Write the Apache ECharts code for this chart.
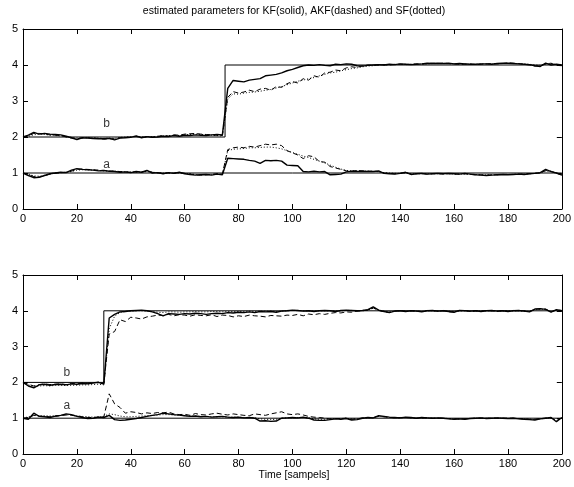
<!DOCTYPE html>
<html>
<head>
<meta charset="utf-8">
<script src="https://cdn.jsdelivr.net/npm/echarts@6/dist/echarts.min.js"></script>
<style>
  html, body { margin: 0; padding: 0; background: #fff; }
  #main { width: 574px; height: 487px; }
</style>
</head>
<body>
<div id="main"></div>
<script>
// samples are read every 2nd step: t = 0, 2, 4, ... 200
var sampleStep = 2;
var xTicks = [0, 20, 40, 60, 80, 100, 120, 140, 160, 180, 200];
var yTicks = [0, 1, 2, 3, 4, 5];

// true parameters
var trueA = [[0, 1], [200, 1]];
var trueBTop = [[0, 2], [75, 2], [75, 4], [200, 4]];
var trueBBottom = [[0, 2], [30, 2], [30, 4], [200, 4]];

// ---- upper plot (change at t = 75) ----
var topB_KF = [
  2.00, 2.05, 2.13, 2.08, 2.10, 2.08, 2.07, 2.06, 2.02, 1.98,
  1.93, 1.98, 1.97, 1.96, 1.95, 1.95, 1.96, 1.92, 1.97, 1.98,
  1.99, 2.03, 1.98, 2.01, 1.99, 2.00, 2.02, 2.01, 2.04, 2.02,
  2.05, 2.04, 2.06, 2.05, 2.04, 2.06, 2.07, 2.06, 3.35, 3.57,
  3.55, 3.53, 3.58, 3.60, 3.62, 3.70, 3.72, 3.74, 3.78, 3.84,
  3.88, 3.93, 3.98, 4.00, 3.99, 4.01, 3.99, 3.98, 4.02, 4.01,
  4.03, 4.02, 3.98, 3.97, 3.99, 4.00, 4.01, 4.00, 4.02, 4.01,
  4.03, 4.02, 4.01, 4.02, 4.03, 4.05, 4.04, 4.05, 4.04, 4.05,
  4.03, 4.04, 4.03, 4.02, 4.02, 4.03, 4.03, 4.02, 4.04, 4.05,
  4.05, 4.04, 4.03, 4.02, 4.01, 3.98, 3.96, 4.05, 4.00, 4.02,
  4.00
];
var topB_AKF = [
  2.00, 2.03, 2.10, 2.10, 2.08, 2.06, 2.05, 2.04, 2.00, 1.97,
  1.95, 1.97, 1.98, 1.97, 1.96, 1.94, 1.95, 1.95, 1.98, 1.99,
  2.00, 2.01, 1.99, 2.00, 2.00, 2.02, 2.04, 2.03, 2.06, 2.05,
  2.08, 2.09, 2.10, 2.08, 2.07, 2.06, 2.05, 2.04, 3.10, 3.26,
  3.22, 3.25, 3.30, 3.26, 3.33, 3.35, 3.30, 3.40, 3.38, 3.48,
  3.54, 3.50, 3.62, 3.58, 3.70, 3.66, 3.78, 3.80, 3.86, 3.84,
  3.92, 3.95, 3.93, 3.98, 4.00, 3.99, 4.00, 4.01, 4.00, 4.02,
  4.02, 4.01, 4.02, 4.03, 4.02, 4.04, 4.05, 4.04, 4.05, 4.04,
  4.03, 4.02, 4.02, 4.03, 4.01, 4.02, 4.03, 4.04, 4.03, 4.04,
  4.06, 4.05, 4.04, 4.02, 4.00, 3.97, 3.98, 4.03, 4.05, 3.99,
  3.98
];
var topB_SF = [
  2.00, 2.02, 2.06, 2.08, 2.07, 2.05, 2.04, 2.03, 2.01, 1.99,
  1.97, 1.98, 1.99, 1.98, 1.97, 1.96, 1.97, 1.96, 1.99, 2.00,
  2.01, 2.02, 2.00, 2.01, 2.01, 2.02, 2.03, 2.03, 2.05, 2.04,
  2.06, 2.07, 2.08, 2.07, 2.06, 2.05, 2.04, 2.03, 3.05, 3.20,
  3.19, 3.22, 3.24, 3.25, 3.27, 3.30, 3.32, 3.36, 3.40, 3.45,
  3.50, 3.55, 3.58, 3.62, 3.65, 3.70, 3.74, 3.78, 3.80, 3.84,
  3.87, 3.90, 3.92, 3.95, 3.97, 3.98, 4.00, 4.00, 4.01, 4.01,
  4.02, 4.02, 4.02, 4.03, 4.03, 4.03, 4.04, 4.04, 4.04, 4.04,
  4.03, 4.03, 4.03, 4.02, 4.02, 4.03, 4.03, 4.03, 4.04, 4.04,
  4.05, 4.04, 4.04, 4.03, 4.02, 4.00, 3.99, 4.02, 4.04, 4.01,
  4.00
];
var topA_KF = [
  1.00, 0.93, 0.87, 0.88, 0.93, 0.98, 1.00, 1.02, 1.01, 1.08,
  1.12, 1.10, 1.09, 1.08, 1.06, 1.07, 1.05, 1.04, 1.02, 1.03,
  1.01, 1.04, 1.02, 1.07, 1.00, 1.01, 0.98, 1.01, 0.99, 1.02,
  0.98, 0.96, 0.94, 0.95, 0.96, 0.94, 0.97, 0.95, 1.41, 1.40,
  1.39, 1.38, 1.35, 1.33, 1.27, 1.35, 1.34, 1.35, 1.33, 1.22,
  1.21, 1.20, 1.04, 1.03, 1.05, 1.03, 1.04, 0.95, 0.96, 0.97,
  1.03, 1.05, 1.04, 1.05, 1.04, 1.04, 1.06, 0.99, 0.98, 0.97,
  0.99, 1.02, 0.96, 0.98, 0.99, 0.97, 0.98, 0.99, 0.98, 0.99,
  0.98, 0.97, 0.99, 0.97, 0.95, 0.94, 0.93, 0.94, 0.95, 0.96,
  0.95, 0.96, 0.97, 0.96, 0.98, 0.99, 1.01, 1.10, 1.04, 1.00,
  0.95
];
var topA_AKF = [
  1.00, 0.96, 0.90, 0.89, 0.92, 0.97, 0.99, 1.01, 1.02, 1.05,
  1.10, 1.11, 1.10, 1.09, 1.08, 1.07, 1.06, 1.05, 1.04, 1.03,
  1.02, 1.03, 1.03, 1.05, 1.02, 1.00, 0.99, 1.00, 1.00, 1.01,
  0.99, 0.97, 0.95, 0.94, 0.95, 0.96, 0.98, 0.97, 1.65, 1.70,
  1.72, 1.70, 1.74, 1.72, 1.76, 1.80, 1.78, 1.80, 1.76, 1.62,
  1.56, 1.50, 1.40, 1.48, 1.45, 1.32, 1.30, 1.18, 1.14, 1.10,
  1.06, 1.05, 1.07, 1.06, 1.05, 1.05, 1.04, 1.00, 0.99, 0.98,
  0.99, 1.01, 0.97, 0.98, 0.98, 0.97, 0.98, 0.98, 0.97, 0.98,
  0.97, 0.97, 0.98, 0.96, 0.95, 0.95, 0.94, 0.95, 0.95, 0.96,
  0.96, 0.96, 0.97, 0.97, 0.98, 0.99, 1.00, 1.07, 1.05, 0.99,
  0.94
];
var topA_SF = [
  1.00, 0.97, 0.92, 0.91, 0.94, 0.98, 1.00, 1.01, 1.02, 1.04,
  1.08, 1.09, 1.09, 1.08, 1.07, 1.06, 1.05, 1.05, 1.04, 1.03,
  1.03, 1.02, 1.03, 1.04, 1.02, 1.01, 1.00, 1.00, 1.00, 1.00,
  0.99, 0.98, 0.96, 0.95, 0.96, 0.96, 0.97, 0.97, 1.62, 1.66,
  1.67, 1.68, 1.70, 1.70, 1.71, 1.72, 1.72, 1.70, 1.67, 1.62,
  1.57, 1.52, 1.47, 1.43, 1.38, 1.33, 1.28, 1.22, 1.16, 1.11,
  1.07, 1.06, 1.06, 1.05, 1.05, 1.04, 1.04, 1.01, 1.00, 0.99,
  0.99, 1.00, 0.98, 0.98, 0.98, 0.98, 0.98, 0.98, 0.98, 0.98,
  0.97, 0.97, 0.97, 0.96, 0.96, 0.95, 0.95, 0.95, 0.95, 0.96,
  0.96, 0.96, 0.97, 0.97, 0.98, 0.99, 1.00, 1.05, 1.04, 1.00,
  0.96
];

// ---- lower plot (change at t = 30) ----
var botB_KF = [
  2.00, 1.90, 1.85, 1.93, 1.95, 1.92, 1.94, 1.95, 1.93, 1.96,
  1.95, 1.97, 1.96, 1.98, 2.00, 1.95, 3.80, 3.90, 3.97, 3.98,
  4.00, 4.01, 4.02, 4.00, 3.97, 3.92, 3.86, 3.92, 3.91, 3.90,
  3.92, 3.91, 3.93, 3.92, 3.90, 3.92, 3.93, 3.92, 3.95, 3.94,
  3.96, 3.95, 3.97, 3.95, 3.98, 3.97, 3.98, 3.96, 3.99, 4.00,
  4.02, 4.01, 3.99, 4.00, 3.98, 4.00, 4.01, 4.00, 3.98, 4.01,
  4.02, 4.01, 4.00, 4.01, 4.03, 4.11, 4.02, 3.98, 3.95, 3.99,
  4.00, 3.98, 4.00, 3.99, 3.97, 4.00, 4.01, 3.99, 4.00, 3.98,
  3.96, 4.01, 4.00, 3.99, 4.00, 3.98, 4.00, 4.01, 3.99, 4.00,
  3.98, 4.00, 4.01, 3.99, 3.97, 4.05, 4.06, 4.04, 3.96, 4.03,
  4.00
];
var botB_AKF = [
  2.00, 1.95, 1.90, 1.94, 1.96, 1.94, 1.95, 1.96, 1.94, 1.97,
  1.96, 1.98, 1.97, 1.99, 2.01, 1.97, 3.35, 3.42, 3.75, 3.70,
  3.82, 3.80, 3.77, 3.83, 3.85, 3.88, 3.87, 3.90, 3.86, 3.89,
  3.88, 3.85, 3.89, 3.87, 3.86, 3.89, 3.84, 3.88, 3.87, 3.83,
  3.86, 3.84, 3.88, 3.86, 3.85, 3.83, 3.87, 3.86, 3.85, 3.88,
  3.87, 3.90, 3.86, 3.91, 3.89, 3.92, 3.90, 3.93, 3.95, 3.94,
  3.97, 3.96, 3.99, 4.00, 4.02, 4.08, 4.01, 3.97, 3.96, 3.99,
  4.01, 3.99, 4.00, 4.00, 3.98, 4.01, 4.00, 3.99, 4.01, 3.97,
  3.97, 4.00, 4.01, 3.98, 4.00, 3.99, 4.01, 4.00, 3.98, 4.01,
  3.99, 4.01, 4.00, 4.00, 3.98, 4.04, 4.05, 4.05, 3.97, 4.02,
  4.01
];
var botB_SF = [
  2.00, 1.93, 1.89, 1.90, 1.91, 1.90, 1.92, 1.92, 1.91, 1.92,
  1.92, 1.93, 1.93, 1.94, 1.95, 1.93, 3.50, 3.85, 3.95, 3.98,
  3.99, 4.00, 4.00, 3.99, 3.98, 3.96, 3.95, 3.97, 3.97, 3.96,
  3.97, 3.97, 3.98, 3.97, 3.97, 3.98, 3.98, 3.97, 3.98, 3.98,
  3.98, 3.98, 3.99, 3.98, 3.99, 3.99, 3.99, 3.98, 3.99, 4.00,
  4.01, 4.01, 4.00, 4.00, 3.99, 4.00, 4.00, 4.00, 3.99, 4.00,
  4.01, 4.01, 4.00, 4.01, 4.02, 4.07, 4.02, 3.99, 3.97, 3.99,
  4.00, 3.99, 4.00, 3.99, 3.98, 4.00, 4.00, 3.99, 4.00, 3.99,
  3.98, 4.00, 4.00, 3.99, 4.00, 3.99, 4.00, 4.00, 3.99, 4.00,
  3.99, 4.00, 4.00, 3.99, 3.98, 4.03, 4.04, 4.03, 3.98, 4.02,
  4.00
];
var botA_KF = [
  1.00, 0.97, 1.14, 1.05, 1.04, 1.02, 1.06, 1.08, 1.12, 1.10,
  1.05, 1.02, 0.99, 1.00, 1.03, 1.02, 1.08, 0.96, 0.94, 0.95,
  0.97, 0.99, 1.02, 1.05, 1.08, 1.10, 1.14, 1.12, 1.10, 1.09,
  1.07, 1.05, 1.06, 1.04, 1.05, 1.03, 1.04, 1.05, 1.03, 1.02,
  1.03, 1.01, 1.02, 1.00, 0.92, 0.93, 0.91, 0.92, 1.00, 1.01,
  1.02, 1.01, 1.03, 1.00, 0.95, 0.94, 0.94, 0.96, 0.98, 0.97,
  0.99, 0.95, 0.96, 1.00, 1.02, 1.01, 1.07, 1.05, 1.03, 1.02,
  1.01, 1.03, 1.02, 1.00, 1.02, 1.01, 1.00, 1.01, 1.00, 0.98,
  0.97, 0.98, 0.97, 0.99, 1.00, 1.01, 0.99, 1.00, 1.01, 1.00,
  0.99, 1.00, 0.98, 0.97, 0.96, 0.95, 0.98, 1.00, 1.02, 0.90,
  1.02
];
var botA_AKF = [
  1.00, 1.02, 1.08, 1.06, 1.05, 1.04, 1.05, 1.07, 1.09, 1.08,
  1.06, 1.04, 1.02, 1.02, 1.03, 1.04, 1.68, 1.40, 1.30, 1.14,
  1.18, 1.16, 1.12, 1.15, 1.13, 1.16, 1.15, 1.17, 1.12, 1.10,
  1.11, 1.08, 1.13, 1.10, 1.09, 1.12, 1.14, 1.11, 1.09, 1.12,
  1.10, 1.08, 1.07, 1.12, 1.10, 1.08, 1.12, 1.15, 1.18, 1.12,
  1.10, 1.12, 1.09, 1.05, 1.03, 1.02, 1.00, 0.98, 0.99, 0.99,
  1.00, 0.97, 0.98, 1.01, 1.02, 1.02, 1.05, 1.04, 1.02, 1.01,
  1.02, 1.02, 1.01, 1.00, 1.01, 1.01, 1.00, 1.00, 1.00, 0.99,
  0.98, 0.98, 0.98, 0.99, 1.00, 1.00, 1.00, 1.00, 1.00, 1.00,
  1.00, 1.00, 0.99, 0.98, 0.97, 0.97, 0.99, 1.00, 1.01, 0.93,
  1.01
];
var botA_SF = [
  1.00, 1.04, 1.08, 1.07, 1.07, 1.06, 1.07, 1.08, 1.10, 1.09,
  1.07, 1.05, 1.04, 1.03, 1.04, 1.05, 1.12, 1.10, 1.06, 1.04,
  1.04, 1.05, 1.06, 1.07, 1.08, 1.09, 1.10, 1.10, 1.09, 1.08,
  1.07, 1.06, 1.06, 1.05, 1.05, 1.04, 1.04, 1.04, 1.03, 1.03,
  1.03, 1.02, 1.02, 1.02, 0.98, 0.97, 0.96, 0.97, 1.00, 1.01,
  1.02, 1.02, 1.02, 1.01, 0.98, 0.97, 0.97, 0.98, 0.99, 0.99,
  1.00, 0.98, 0.98, 1.00, 1.01, 1.01, 1.05, 1.04, 1.02, 1.01,
  1.01, 1.02, 1.01, 1.00, 1.01, 1.01, 1.00, 1.00, 1.00, 0.99,
  0.98, 0.98, 0.98, 0.99, 1.00, 1.00, 1.00, 1.00, 1.00, 1.00,
  0.99, 1.00, 0.99, 0.98, 0.97, 0.96, 0.98, 1.00, 1.01, 0.93,
  1.01
];

// text labels next to the curves
var curveLabels = [
  { grid: 0, text: 'b', t: 31, v: 2.36 },
  { grid: 0, text: 'a', t: 31, v: 1.22 },
  { grid: 1, text: 'b', t: 16.3, v: 2.27 },
  { grid: 1, text: 'a', t: 16.3, v: 1.36 }
];

var FONT = 'Liberation Sans, Arial, sans-serif';

function pts(vals) {
  return vals.map(function (v, i) { return [i * sampleStep, v]; });
}

function line(data, axis, kind) {
  var style = { color: '#000', width: 1, type: 'solid' };
  if (kind === 'kf') style.width = 1.4;
  if (kind === 'akf') style.type = [5, 3];
  if (kind === 'sf') style.type = [1, 2];
  return {
    type: 'line',
    xAxisIndex: axis, yAxisIndex: axis,
    data: data,
    showSymbol: false,
    symbol: 'none',
    silent: true,
    lineStyle: style,
    z: kind === 'kf' ? 5 : 3
  };
}

var axisLineStyle = { onZero: false, lineStyle: { color: '#000', width: 1 } };
var tickStyle = { show: true, inside: true, length: 5, lineStyle: { color: '#000' } };

function xAxes(gridIndex) {
  return [{
    type: 'value', gridIndex: gridIndex, min: 0, max: 200, interval: 20,
    position: 'bottom',
    axisLine: axisLineStyle,
    axisTick: tickStyle,
    axisLabel: { color: '#000', fontSize: 11, fontFamily: FONT, margin: 4,
      formatter: function (v) { return xTicks.indexOf(v) >= 0 ? String(v) : ''; } },
    splitLine: { show: false }
  }, {
    type: 'value', gridIndex: gridIndex, min: 0, max: 200, interval: 20,
    position: 'top',
    axisLine: axisLineStyle,
    axisTick: tickStyle,
    axisLabel: { show: false },
    splitLine: { show: false }
  }];
}

function yAxes(gridIndex) {
  return [{
    type: 'value', gridIndex: gridIndex, min: 0, max: 5, interval: 1,
    position: 'left',
    axisLine: { show: true, onZero: false, lineStyle: { color: '#000', width: 1 } },
    axisTick: tickStyle,
    axisLabel: { color: '#000', fontSize: 11, fontFamily: FONT, margin: 5,
      formatter: function (v) { return yTicks.indexOf(v) >= 0 ? String(v) : ''; } },
    splitLine: { show: false }
  }, {
    type: 'value', gridIndex: gridIndex, min: 0, max: 5, interval: 1,
    position: 'right',
    axisLine: { show: true, onZero: false, lineStyle: { color: '#000', width: 1 } },
    axisTick: tickStyle,
    axisLabel: { show: false },
    splitLine: { show: false }
  }];
}

var series = [
  line(trueA, 0, 'true'), line(trueBTop, 0, 'true'),
  line(pts(topB_SF), 0, 'sf'), line(pts(topA_SF), 0, 'sf'),
  line(pts(topB_AKF), 0, 'akf'), line(pts(topA_AKF), 0, 'akf'),
  line(pts(topB_KF), 0, 'kf'), line(pts(topA_KF), 0, 'kf'),

  line(trueA, 2, 'true'), line(trueBBottom, 2, 'true'),
  line(pts(botB_SF), 2, 'sf'), line(pts(botA_SF), 2, 'sf'),
  line(pts(botB_AKF), 2, 'akf'), line(pts(botA_AKF), 2, 'akf'),
  line(pts(botB_KF), 2, 'kf'), line(pts(botA_KF), 2, 'kf')
];

[0, 1].forEach(function (g) {
  series.push({
    type: 'scatter',
    xAxisIndex: g * 2, yAxisIndex: g * 2,
    symbolSize: 1,
    itemStyle: { color: 'rgba(0,0,0,0)' },
    silent: true,
    z: 10,
    data: curveLabels.filter(function (l) { return l.grid === g; })
      .map(function (l) { return { value: [l.t, l.v], name: l.text }; }),
    label: { show: true, position: 'inside', formatter: '{b}',
      color: '#000', fontSize: 12, fontFamily: FONT }
  });
});

var chart = echarts.init(document.getElementById('main'), null, { renderer: 'canvas' });
chart.setOption({
  animation: false,
  backgroundColor: '#fff',
  grid: [
    { left: 23, right: 10, top: 29, height: 180 },
    { left: 23, right: 10, top: 275, height: 179 }
  ],
  xAxis: xAxes(0).concat(xAxes(1)),
  yAxis: yAxes(0).concat(yAxes(1)),
  graphic: [
    { type: 'text', x: 294, y: 11, style: {
      text: 'estimated parameters for KF(solid), AKF(dashed) and SF(dotted)',
      fill: '#000', font: '10.5px ' + FONT,
      textAlign: 'center', textVerticalAlign: 'middle' } },
    { type: 'text', x: 294, y: 475, style: {
      text: 'Time [sampels]', fill: '#000', font: '10.5px ' + FONT,
      textAlign: 'center', textVerticalAlign: 'middle' } }
  ],
  series: series
});
</script>
</body>
</html>
